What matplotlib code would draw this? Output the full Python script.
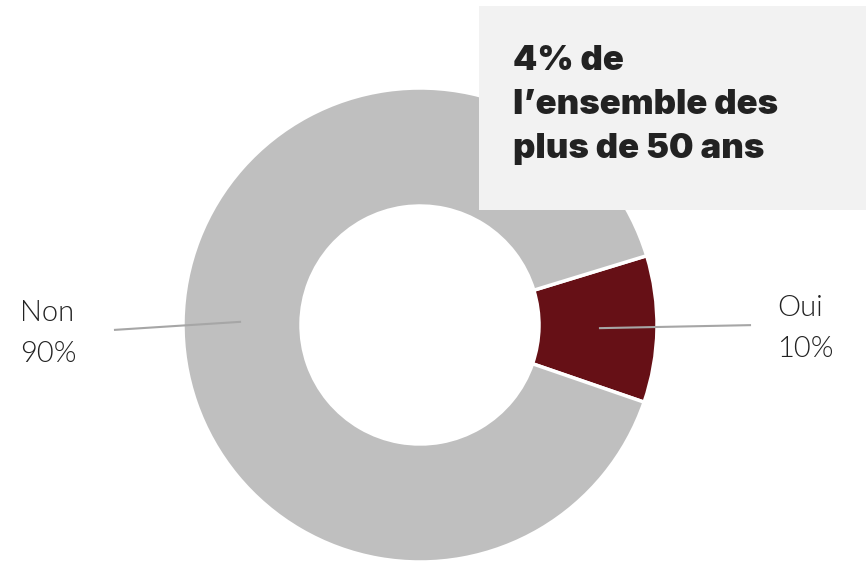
import matplotlib
matplotlib.use("Agg")
import matplotlib.pyplot as plt
from matplotlib.patches import Rectangle
from matplotlib import font_manager as fm
import numpy as np

categories = ["Oui", "Non"]
values = [10, 90]
pct_labels = ["10%", "90%"]
colors = ["#661016", "#bfbfbf"]
box_lines = ["4% de", "l\u2019ensemble des", "plus de 50 ans"]


def font_file(name, weight):
    for f in fm.fontManager.ttflist:
        if f.name == name and f.weight == weight and f.style == "normal":
            return f.fname
    return None


heavy_path = font_file("Inter", 900) or font_file("Lato", 900)
light_path = font_file("Lato", 300)
heavy_fp = fm.FontProperties(fname=heavy_path, size=25) if heavy_path else fm.FontProperties(family="DejaVu Sans", weight="bold", size=24)
light_fp = fm.FontProperties(fname=light_path, size=21) if light_path else fm.FontProperties(family="Lato", weight="light", size=21)

W, H = 866, 563
fig = plt.figure(figsize=(W / 100, H / 100), dpi=100)
ax = fig.add_axes([0, 0, 1, 1])

cx, cy, R = 420, H - 325, 237
wedges, _ = ax.pie(values, colors=colors, startangle=-19, counterclock=True,
                   center=(cx, cy), radius=R, frame=True,
                   wedgeprops=dict(width=118, edgecolor="white", linewidth=2.5))
ax.set_xlim(0, W)
ax.set_ylim(0, H)
ax.set_aspect("equal")
ax.axis("off")

# label leader lines and texts
for w, cat, pl in zip(wedges, categories, pct_labels):
    ang = np.deg2rad((w.theta1 + w.theta2) / 2)
    r_in = 180
    x0, y0 = cx + r_in * np.cos(ang), cy + r_in * np.sin(ang)
    if np.cos(ang) > 0:
        x1, y1 = 750, y0 + 3
        tx = 777
    else:
        x1, y1 = 115, y0 - 8
        tx = 20
    ax.plot([x0, x1], [y0, y1], color="#a6a6a6", lw=1.5, zorder=5)
    ax.text(tx, y1 + 9, cat, ha="left", va="baseline",
            fontproperties=light_fp, color="#222222", zorder=6)
    ax.text(tx, y1 - 32, pl, ha="left", va="baseline",
            fontproperties=light_fp, color="#222222", zorder=6)

# info box
ax.add_patch(Rectangle((479, H - 210), W - 479, 204, facecolor="#f2f2f2",
                       edgecolor="none", zorder=10))
for i, line in enumerate(box_lines):
    ax.text(513, H - (70 + 44 * i), line, ha="left", va="baseline",
            fontproperties=heavy_fp, color="#222222", zorder=11)

fig.savefig("out.png", dpi=100)
